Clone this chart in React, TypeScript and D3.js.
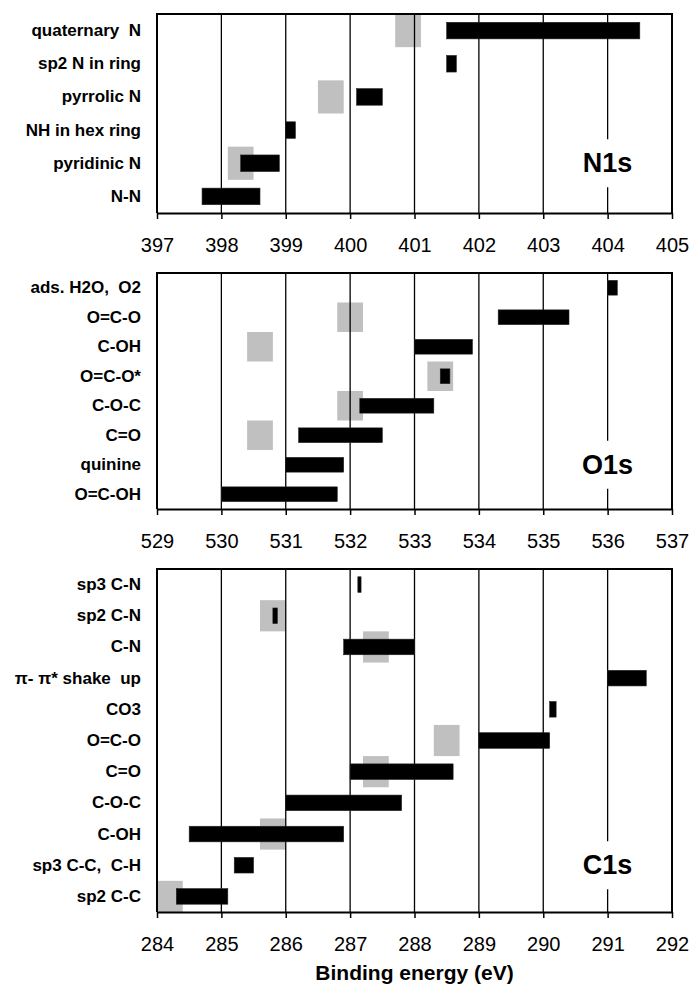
import React, { useRef, useEffect } from "react";
import { select, axisBottom, scaleLinear, scaleBand } from "d3";

// N1s
const n1sLabels = ["quaternary  N", "sp2 N in ring", "pyrrolic N", "NH in hex ring", "pyridinic N", "N-N"];
const n1sRanges = [[401.5, 404.5], [401.5, 401.65], [400.1, 400.5], [399.0, 399.15], [398.3, 398.9], [397.7, 398.6]];
const n1sRefs = [[400.7, 401.1], null, [399.5, 399.9], null, [398.1, 398.5], null];
const n1sDomain = [397, 405];

// O1s
const o1sLabels = ["ads. H2O,  O2", "O=C-O", "C-OH", "O=C-O*", "C-O-C", "C=O", "quinine", "O=C-OH"];
const o1sRanges = [[536.0, 536.15], [534.3, 535.4], [533.0, 533.9], [533.4, 533.55], [532.15, 533.3], [531.2, 532.5], [531.0, 531.9], [530.0, 531.8]];
const o1sRefs = [null, [531.8, 532.2], [530.4, 530.8], [533.2, 533.6], [531.8, 532.2], [530.4, 530.8], null, null];
const o1sDomain = [529, 537];

// C1s
const c1sLabels = ["sp3 C-N", "sp2 C-N", "C-N", "\u03c0- \u03c0* shake  up", "CO3", "O=C-O", "C=O", "C-O-C", "C-OH", "sp3 C-C,  C-H", "sp2 C-C"];
const c1sRanges = [[287.12, 287.17], [285.8, 285.87], [286.9, 288.0], [291.0, 291.6], [290.1, 290.2], [289.0, 290.1], [287.0, 288.6], [286.0, 287.8], [284.5, 286.9], [285.2, 285.5], [284.3, 285.1]];
const c1sRefs = [null, [285.6, 286.0], [287.2, 287.6], null, null, [288.3, 288.7], [287.2, 287.6], null, [285.6, 286.0], null, [284.0, 284.4]];
const c1sDomain = [284, 292];

const LEFT = 157;
const RIGHT = 672;
const FONT = "'Liberation Sans', Arial, Helvetica, sans-serif";

type Range = number[] | null;

const Panel = ({ labels, ranges, refs, domain, name, top, bottom }: {
  labels: string[]; ranges: number[][]; refs: Range[]; domain: number[];
  name: string; top: number; bottom: number;
}) => {
  const axisRef = useRef<SVGGElement>(null);
  const x = scaleLinear().domain(domain).range([LEFT, RIGHT]);
  const y = scaleBand().domain(labels).range([top, bottom]);
  const bw = y.bandwidth();
  const ticks = x.ticks(8);

  useEffect(() => {
    const g = select(axisRef.current);
    g.call(axisBottom(x).ticks(8).tickSize(6).tickSizeOuter(0).tickFormat((d) => String(d)));
    g.attr("font-size", null).attr("font-family", null);
    g.select(".domain").attr("stroke", "#000").attr("stroke-width", 2);
    g.selectAll(".tick line").attr("stroke", "#000").attr("stroke-width", 1.5);
    g.selectAll(".tick text")
      .attr("y", 39)
      .attr("dy", null)
      .attr("fill", "#000")
      .style("font-size", "20px")
      .style("font-family", FONT);
  }, []);

  const nameX = x(domain[1] - 1);
  const nameY = (y(labels[labels.length - 2]) || 0) + bw / 2;

  return (
    <g>
      {refs.map((r, i) =>
        r ? (
          <rect key={"g" + i} x={x(r[0])} width={x(r[1]) - x(r[0])} y={y(labels[i])} height={bw} fill="#c0c0c0" />
        ) : null
      )}
      {ticks.slice(1, -1).map((t) => (
        <line key={t} x1={x(t)} x2={x(t)} y1={top} y2={bottom} stroke="#000" strokeWidth={1.3} />
      ))}
      <rect x={nameX - 28} y={nameY - 24} width={56} height={48} fill="#fff" />
      <text x={nameX} y={nameY} textAnchor="middle" dominantBaseline="central"
        style={{ fontFamily: FONT, fontSize: 27, fontWeight: "bold" }}>{name}</text>
      {ranges.map((r, i) => (
        <rect key={"b" + i} x={x(r[0])} width={x(r[1]) - x(r[0])}
          y={(y(labels[i]) || 0) + bw / 4} height={bw / 2} fill="#000" stroke="#222" strokeWidth={0.6} />
      ))}
      {labels.map((l, i) => (
        <text key={"l" + i} x={141} y={(y(l) || 0) + bw / 2} textAnchor="end" dominantBaseline="central"
          style={{ fontFamily: FONT, fontSize: 17, fontWeight: "bold", whiteSpace: "pre" }}>{l}</text>
      ))}
      <path d={`M${LEFT},${bottom}V${top}H${RIGHT}V${bottom}`} fill="none" stroke="#000" strokeWidth={2} />
      <g ref={axisRef} transform={`translate(0,${bottom})`} />
    </g>
  );
};

const App = () => {
  return (
    <svg width={690} height={986} viewBox="0 0 690 986"
      style={{ position: "absolute", left: 0, top: 0, background: "#fff" }}>
      <rect width={690} height={986} fill="#fff" />
      <Panel labels={n1sLabels} ranges={n1sRanges} refs={n1sRefs} domain={n1sDomain} name="N1s" top={14} bottom={213} />
      <Panel labels={o1sLabels} ranges={o1sRanges} refs={o1sRefs} domain={o1sDomain} name="O1s" top={273} bottom={509} />
      <Panel labels={c1sLabels} ranges={c1sRanges} refs={c1sRefs} domain={c1sDomain} name="C1s" top={569} bottom={912} />
      <text x={(LEFT + RIGHT) / 2} y={980} textAnchor="middle"
        style={{ fontFamily: FONT, fontSize: 21, fontWeight: "bold" }}>Binding energy (eV)</text>
    </svg>
  );
};

export default App;
